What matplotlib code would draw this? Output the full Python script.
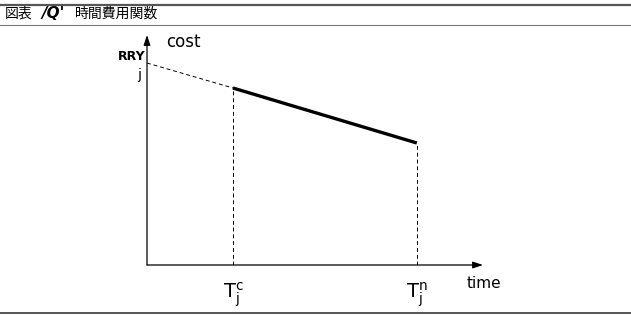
import matplotlib
matplotlib.use("Agg")
import matplotlib.pyplot as plt
from matplotlib.lines import Line2D

plt.rcParams["font.family"] = ["DejaVu Sans"]
plt.rcParams["mathtext.fontset"] = "dejavusans"

# --- data (time / cost units) ---
t_c = 1.0            # T_j^c
t_n = 3.14           # T_j^n
cost_0 = 2.02        # cost intercept at time 0
cost_c = 1.77        # cost at T_j^c
cost_n = 1.22        # cost at T_j^n
x_max = 3.91
y_max = 2.30

title_parts = ["図表", "/Q'", "時間費用関数"]

fig = plt.figure(figsize=(6.31, 3.16), dpi=100)

# header / footer rules
fig.add_artist(Line2D([0.0, 1.0], [1 - 4.5 / 316, 1 - 4.5 / 316], color="#555555", lw=1.6))
fig.add_artist(Line2D([0.0, 1.0], [1 - 25 / 316, 1 - 25 / 316], color="#777777", lw=0.8))
fig.add_artist(Line2D([0.0, 1.0], [1 - 313 / 316, 1 - 313 / 316], color="#555555", lw=1.4))

cjk = ["Noto Sans CJK JP", "DejaVu Sans"]
fig.text(5 / 631, 1 - 13.5 / 316, title_parts[0], family=cjk, fontsize=10, va="center")
fig.text(41 / 631, 1 - 13.5 / 316, title_parts[1], family="DejaVu Sans", fontsize=11,
         fontweight="bold", fontstyle="italic", va="center")
fig.text(75 / 631, 1 - 13.5 / 316, title_parts[2], family=cjk, fontsize=10, va="center")

# plot area: origin at pixel (147, 265)
ax = fig.add_axes([147 / 631, (316 - 265) / 316, 336 / 631, 230 / 316])
ax.set_xlim(0, x_max)
ax.set_ylim(0, y_max)
for s in ax.spines.values():
    s.set_visible(False)
ax.set_xticks([])
ax.set_yticks([])
ax.patch.set_visible(False)

# axes with arrows
arrow = dict(arrowstyle="-|>,head_length=0.6,head_width=0.2", color="black", lw=0.9,
             shrinkA=0, shrinkB=0)
ax.annotate("", xy=(x_max, 0), xytext=(0, 0), arrowprops=arrow, annotation_clip=False)
ax.annotate("", xy=(0, y_max), xytext=(0, 0), arrowprops=arrow, annotation_clip=False)

# dashed extension to the cost axis
ax.plot([0, t_c], [cost_0, cost_c], color="black", lw=0.7, ls=(0, (4, 3)))
# vertical dashed guides
ax.plot([t_c, t_c], [0, cost_c], color="black", lw=0.7, ls=(0, (4, 3)))
ax.plot([t_n, t_n], [0, cost_n], color="black", lw=0.7, ls=(0, (4, 3)))
# cost function
ax.plot([t_c, t_n], [cost_c, cost_n], color="black", lw=2.4, solid_capstyle="butt")

# labels
ax.text(0.22, y_max - 0.07, "cost", fontsize=12, va="center", ha="left")
ax.text(-0.02, cost_0 + 0.07, "RRY", fontsize=9, fontweight="bold", ha="right",
        va="center", family=["Liberation Sans Narrow", "DejaVu Sans"])
ax.text(-0.07, cost_0 - 0.12, "j", fontsize=10, ha="right", va="center")
ax.text(t_c, -0.3, r"$\mathrm{T}_\mathrm{j}^\mathrm{c}$", fontsize=14, ha="center", va="center")
ax.text(t_n, -0.3, r"$\mathrm{T}_\mathrm{j}^\mathrm{n}$", fontsize=14, ha="center", va="center")
ax.text(x_max - 0.19, -0.19, "time", fontsize=11, ha="left", va="center")

fig.savefig("out.png", dpi=100)
